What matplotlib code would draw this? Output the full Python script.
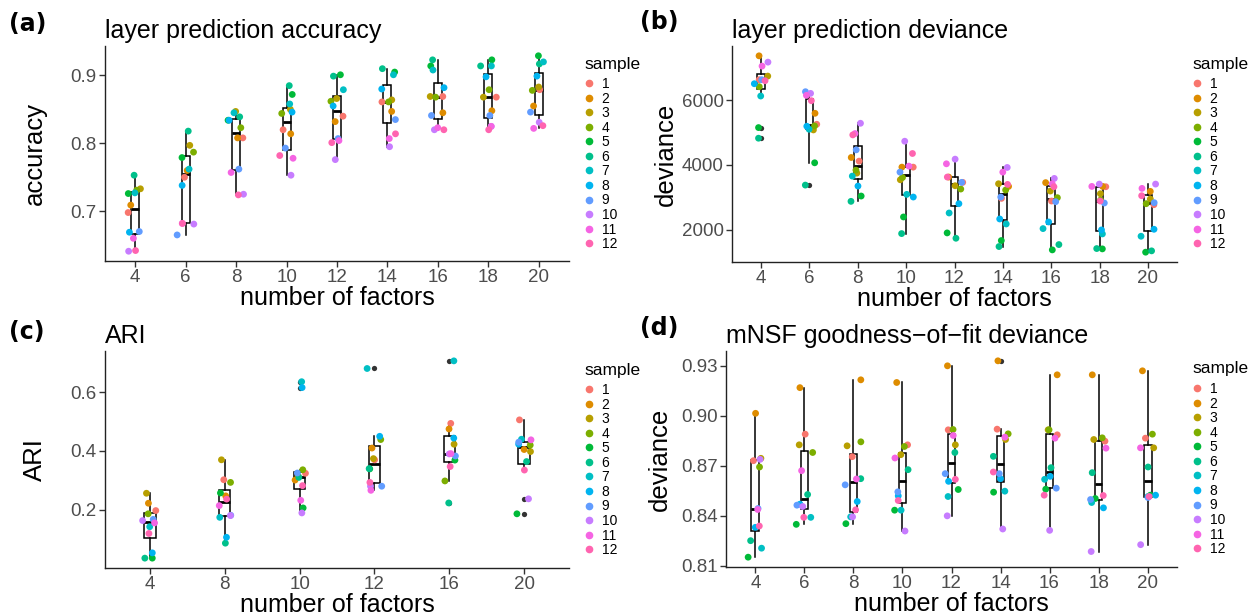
import numpy as np
import matplotlib.pyplot as plt
from matplotlib.lines import Line2D

plt.rcParams['font.family'] = ['Liberation Sans', 'DejaVu Sans']

samples = [str(i) for i in range(1, 13)]
sample_colors = ['#F8766D', '#DE8C00', '#B79F00', '#7CAE00', '#00BA38', '#00C08B',
                 '#00BFC4', '#00B4F0', '#619CFF', '#C77CFF', '#F564E3', '#FF64B0']

factors = [4, 6, 8, 10, 12, 14, 16, 18, 20]
factors_ari = [4, 8, 10, 12, 16, 20]

# one row per number of factors, one column per sample (1..12)
accuracy = [
    [0.698, 0.709, 0.733, 0.731, 0.726, 0.753, 0.727, 0.669, 0.670, 0.641, 0.660, 0.642],
    [0.750, 0.760, 0.797, 0.787, 0.779, 0.818, 0.762, 0.738, 0.665, 0.681, 0.682, 0.682],
    [0.808, 0.808, 0.847, 0.823, 0.834, 0.839, 0.845, 0.834, 0.762, 0.725, 0.757, 0.724],
    [0.820, 0.814, 0.850, 0.844, 0.872, 0.885, 0.858, 0.846, 0.793, 0.753, 0.778, 0.782],
    [0.840, 0.832, 0.866, 0.862, 0.901, 0.899, 0.879, 0.855, 0.807, 0.776, 0.804, 0.801],
    [0.861, 0.847, 0.864, 0.861, 0.905, 0.910, 0.901, 0.880, 0.835, 0.795, 0.807, 0.814],
    [0.869, 0.845, 0.869, 0.868, 0.914, 0.923, 0.908, 0.882, 0.841, 0.820, 0.823, 0.820],
    [0.868, 0.848, 0.868, 0.879, 0.923, 0.914, 0.914, 0.898, 0.841, 0.825, 0.825, 0.820],
    [0.879, 0.855, 0.883, 0.878, 0.929, 0.917, 0.920, 0.899, 0.846, 0.831, 0.822, 0.826],
]

deviance = [
    [6626, 7364, 6738, 6410, 5149, 4821, 6123, 6503, 6626, 7169, 7046, 6595],
    [5251, 5590, 5077, 5200, 4062, 3374, 5097, 5190, 6256, 6205, 6144, 5979],
    [4113, 4226, 3744, 3836, 3036, 2872, 3651, 3344, 4462, 5282, 4964, 4923],
    [3928, 3928, 3538, 3610, 2390, 1877, 3087, 3005, 3774, 4728, 3959, 4349],
    [3458, 3622, 3354, 3252, 1898, 1733, 2513, 2800, 3458, 4175, 4031, 3622],
    [2964, 3333, 3415, 3221, 1662, 1477, 2174, 2328, 3005, 3918, 3774, 3395],
    [2882, 3450, 3190, 2985, 1374, 1538, 2031, 2236, 2862, 3580, 3415, 3323],
    [3323, 3333, 3108, 2913, 1405, 1415, 1867, 1990, 2821, 3405, 3333, 2882],
    [2769, 3180, 2944, 2800, 1303, 1344, 1795, 2010, 2831, 3405, 3272, 3046],
]

ari = [
    [0.197, 0.222, 0.256, 0.186, 0.035, 0.035, 0.142, 0.053, 0.167, 0.163, 0.155, 0.119],
    [0.302, 0.247, 0.370, 0.293, 0.257, 0.086, 0.174, 0.106, 0.181, 0.180, 0.214, 0.236],
    [0.324, 0.301, 0.314, 0.336, 0.206, 0.310, 0.636, 0.616, 0.325, 0.189, 0.232, 0.282],
    [0.370, 0.410, 0.374, 0.439, 0.339, 0.340, 0.681, 0.450, 0.280, 0.280, 0.266, 0.293],
    [0.494, 0.475, 0.423, 0.298, 0.369, 0.223, 0.707, 0.444, 0.383, 0.390, 0.391, 0.347],
    [0.506, 0.405, 0.398, 0.420, 0.186, 0.364, 0.440, 0.423, 0.430, 0.237, 0.438, 0.335],
]

mnsf_deviance = [
    [0.8731, 0.9015, 0.8745, 0.8693, 0.8152, 0.8251, 0.8206, 0.8331, 0.8444, 0.8739, 0.8438, 0.8339],
    [0.8890, 0.9169, 0.8826, 0.8780, 0.8349, 0.8528, 0.8391, 0.8470, 0.8464, 0.8456, 0.8671, 0.8391],
    [0.8755, 0.9216, 0.8820, 0.8844, 0.8353, 0.8623, 0.8394, 0.8486, 0.8586, 0.8394, 0.8621, 0.8436],
    [0.8826, 0.9200, 0.8767, 0.8816, 0.8434, 0.8677, 0.8434, 0.8520, 0.8544, 0.8309, 0.8747, 0.8492],
    [0.8916, 0.9300, 0.8826, 0.8918, 0.8558, 0.8780, 0.8516, 0.8607, 0.8653, 0.8400, 0.8882, 0.8619],
    [0.8920, 0.9330, 0.8858, 0.8892, 0.8542, 0.8757, 0.8548, 0.8623, 0.8653, 0.8321, 0.8872, 0.8663],
    [0.8886, 0.9246, 0.8916, 0.8916, 0.8560, 0.8689, 0.8619, 0.8637, 0.8566, 0.8313, 0.8866, 0.8524],
    [0.8848, 0.9246, 0.8858, 0.8868, 0.8504, 0.8659, 0.8480, 0.8448, 0.8498, 0.8186, 0.8806, 0.8522],
    [0.8866, 0.9270, 0.8808, 0.8890, 0.8524, 0.8693, 0.8516, 0.8524, 0.8510, 0.8227, 0.8808, 0.8516],
]

rng = np.random.default_rng(3)


def draw_panel(ax, cats, values, title, ylabel, yticks, yfmt, box_width, jitter, ylab_x):
    values = np.asarray(values, dtype=float)
    pos = np.arange(len(cats))
    ax.boxplot(values.T, positions=pos, widths=box_width, patch_artist=True,
               showcaps=False,
               boxprops=dict(facecolor='white', edgecolor='black', linewidth=1.1),
               medianprops=dict(color='black', linewidth=2),
               whiskerprops=dict(color='black', linewidth=1.1),
               flierprops=dict(marker='o', markerfacecolor='#333333',
                               markeredgecolor='none', markersize=3.8),
               zorder=2)
    for i in range(len(cats)):
        xj = pos[i] + rng.uniform(-jitter, jitter, size=values.shape[1])
        ax.scatter(xj, values[i], c=sample_colors, s=24, linewidths=0, zorder=3)

    lo, hi = values.min(), values.max()
    pad = (hi - lo) * 0.05
    ax.set_ylim(lo - pad, hi + pad)
    ax.set_xlim(-0.6, len(cats) - 0.4)
    ax.set_xticks(pos)
    ax.set_xticklabels([str(c) for c in cats])
    ax.set_yticks(yticks)
    ax.set_yticklabels([yfmt.format(t) for t in yticks])

    for s in ['top', 'right']:
        ax.spines[s].set_visible(False)
    for s in ['left', 'bottom']:
        ax.spines[s].set_linewidth(1.0)
        ax.spines[s].set_color('#222222')
    ax.tick_params(axis='both', labelsize=13.5, labelcolor='#4D4D4D', color='#333333',
                   length=4, width=1.0, pad=2)

    ax.set_title(title, loc='left', fontsize=18, pad=6)
    ax.set_xlabel('number of factors', fontsize=18, labelpad=0)
    ax.set_ylabel(ylabel, fontsize=18.5)
    ax.yaxis.set_label_coords(ylab_x, 0.5)


def add_legend(ax, x, title_y, items_top):
    fig.text(x / W, 1 - title_y / H, 'sample', fontsize=12.5, va='center', ha='left')
    handles = [Line2D([], [], marker='o', linestyle='', color=c, markersize=4.5)
               for c in sample_colors]
    ax.legend(handles, samples, loc='upper left',
              bbox_to_anchor=((x + 1) / W, 1 - items_top / H), bbox_transform=fig.transFigure,
              frameon=False, fontsize=10, labelspacing=0.04, handlelength=0.6,
              handletextpad=0.6, borderpad=0, borderaxespad=0)


fig = plt.figure(figsize=(12.57, 6.16), dpi=100)
W, H = 1257, 616


def axes_px(left, right, top, bottom):
    return fig.add_axes([left / W, 1 - bottom / H, (right - left) / W, (bottom - top) / H])


ax_a = axes_px(105, 569, 46, 261)
ax_b = axes_px(732, 1177, 46, 262)
ax_c = axes_px(105, 569, 351, 568)
ax_d = axes_px(726, 1177, 351, 567)

draw_panel(ax_a, factors, accuracy, 'layer prediction accuracy', 'accuracy',
           [0.7, 0.8, 0.9], '{:.1f}', 0.16, 0.17, -0.125)
draw_panel(ax_b, factors, deviance, 'layer prediction deviance', 'deviance',
           [2000, 4000, 6000], '{:.0f}', 0.16, 0.17, -0.121)
draw_panel(ax_c, factors_ari, ari, 'ARI', 'ARI',
           [0.2, 0.4, 0.6], '{:.1f}', 0.15, 0.1, -0.125)
draw_panel(ax_d, factors, mnsf_deviance, 'mNSF goodness\u2212of\u2212fit deviance', 'deviance',
           [0.81, 0.84, 0.87, 0.90, 0.93], '{:.2f}', 0.16, 0.17, -0.12)

add_legend(ax_a, 584, 65, 77)
add_legend(ax_b, 1192, 65, 77)
add_legend(ax_c, 584, 371, 383)
add_legend(ax_d, 1192, 369, 382)

for lab, x, y in [('(a)', 9, 24), ('(b)', 640, 22), ('(c)', 9, 332), ('(d)', 640, 328)]:
    fig.text(x / W, 1 - y / H, lab, fontsize=17, fontweight='bold',
             family='DejaVu Sans', va='center', ha='left')

fig.savefig('out.png', dpi=100)
